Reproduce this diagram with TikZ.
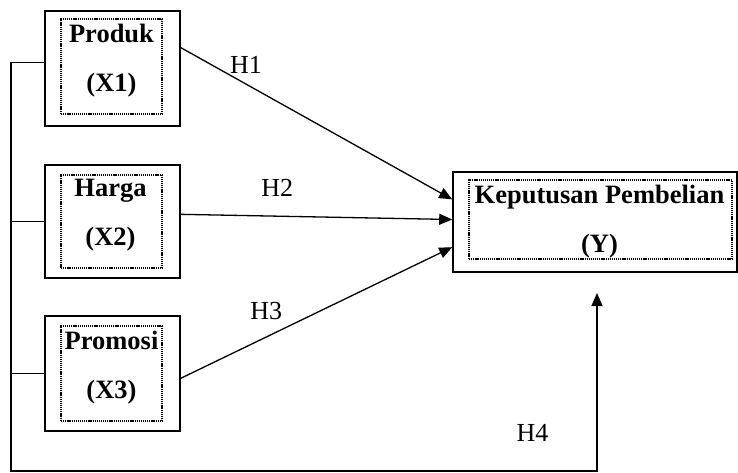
\documentclass[tikz,border=0pt]{standalone}
\usepackage{fontspec}
\setmainfont{Liberation Serif}
\usetikzlibrary{arrows.meta}
\begin{document}
\begin{tikzpicture}[x=1pt, y=-1pt,
        outerbox/.style={draw, line width=1.6pt, inner sep=0pt},
        innerbox/.style={draw, line width=1.2pt, dash pattern=on 1.2pt off 0.9pt, inner sep=0pt},
        boxtext/.style={align=center, inner sep=0pt, font=\fontsize{26.5}{31}\selectfont\bfseries},
        hlabel/.style={inner sep=0pt, font=\fontsize{26}{31}\selectfont},
        conn/.style={line width=1.3pt},
        arr/.style={conn, -{Triangle[length=13pt, width=11pt]}}]
        \useasboundingbox (0,0) rectangle (738,472);

        \node[outerbox, minimum width=135pt, minimum height=115pt] (X1) at (112.5,68.5) {};
        \node[innerbox, minimum width=101pt, minimum height=95pt] (X1in) at (111.5,66.5) {};
        \node[boxtext] (X1lab) at (111.5,61) {Produk\\[18pt](X1)};

        \node[outerbox, minimum width=135pt, minimum height=113pt] (X2) at (112.5,221.5) {};
        \node[innerbox, minimum width=101pt, minimum height=93pt] (X2in) at (111.5,221.5) {};
        \node[boxtext] (X2lab) at (110.5,215.5) {Harga\\[18pt](X2)};

        \node[outerbox, minimum width=135pt, minimum height=115pt] (X3) at (112.5,373.5) {};
        \node[innerbox, minimum width=101pt, minimum height=95pt] (X3in) at (111.5,373.5) {};
        \node[boxtext] (X3lab) at (111.5,368) {Promosi\\[18pt](X3)};

        \node[outerbox, minimum width=284pt, minimum height=100pt] (Y) at (595,222) {};
        \node[innerbox, minimum width=263pt, minimum height=79pt] (Yin) at (600.5,219.5) {};
        \node[boxtext] (Ylab) at (599.5,221.5) {Keputusan Pembelian\\[18pt](Y)};

        \coordinate (corner) at (11,471);
        \coordinate (H4end) at (597,293);

        \draw[arr] (X1.17) -- node[hlabel, pos=0.24, above=10pt] {H1} (Y.171);
        \draw[arr] (X2.6) -- node[hlabel, pos=0.355, above=18.6pt] {H2} (Y.179);
        \draw[arr] (X3.-4) -- node[hlabel, pos=0.315, above=16.5pt] {H3} (Y.190);

        \draw[arr] (X1.175) -| (corner) -| node[hlabel, pos=0.445, above=29pt] {H4} (H4end);
        \draw[conn] (X2.west) -- (X2.west -| corner);
        \draw[conn] (X3.west) -- (X3.west -| corner);
      \end{tikzpicture}
\end{document}
